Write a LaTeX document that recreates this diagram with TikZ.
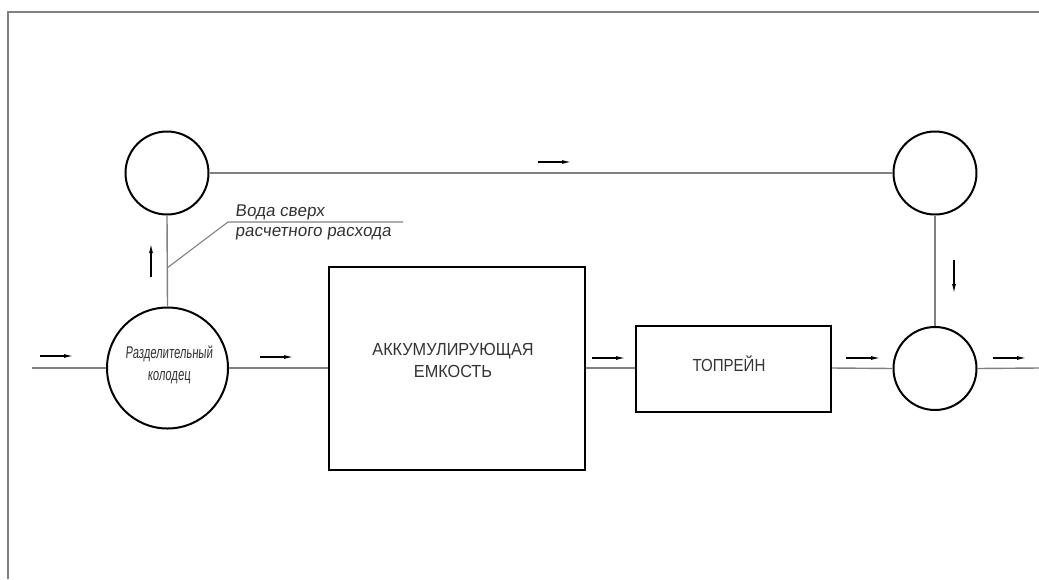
\documentclass[tikz,border=0pt]{standalone}
\usepackage{fontspec}
\setmainfont{Liberation Sans}
\newfontfamily\gostcap[FakeStretch=0.93]{Liberation Sans}
\newfontfamily\gostup[FakeStretch=0.86]{Liberation Sans}
\newfontfamily\gostnar[FakeStretch=0.66,FakeSlant=0.08]{Liberation Sans}
\newfontfamily\gostsl[FakeStretch=1.0,FakeSlant=0.12]{Liberation Sans}
\usetikzlibrary{arrows.meta}
\begin{document}
\begin{tikzpicture}[x=1pt,y=-1pt,
  unit/.style={draw=black,line width=2pt,inner sep=0pt},
  well/.style={unit,circle,minimum size=83pt},
  pipe/.style={draw=black!50,line width=1.4pt},
  flow/.style={draw=black,line width=1.1pt,-{Latex[length=9pt,width=4pt]}},
  lbl/.style={text=black!80,inner sep=0pt}]
\useasboundingbox (0,0) rectangle (1039,579);
% frame
\draw[draw=black!50,line width=2pt] (8,579) -- (8,12) -- (1039,12);
% nodes
\coordinate (in) at (32,368);
\coordinate (out) at (1039,368);
\node[unit,circle,minimum size=121pt] (sep) at (167.5,368) {};
\node[lbl,align=center,font=\gostnar\fontsize{17}{22}\selectfont] at (169,365) {Разделительный\\колодец};
\node[unit,rectangle,minimum width=256pt,minimum height=203pt] (acc) at (457,368.5) {};
\node[lbl,align=center,font=\gostcap\fontsize{17.5}{22}\selectfont] at (453,360) {АККУМУЛИРУЮЩАЯ\\ЕМКОСТЬ};
\node[unit,rectangle,minimum width=195pt,minimum height=86pt] (tp) at (733.5,369) {};
\node[lbl,font=\gostup\fontsize{17.5}{22}\selectfont] at (729,364) {ТОПРЕЙН};
\node[well] (c1) at (167,173) {};
\node[well] (c2) at (935,173) {};
\node[well] (c3) at (935,368.5) {};
% pipes
\draw[pipe] (in) -- (sep.west);
\draw[pipe] (sep.east) -- (acc.west |- sep.east);
\draw[pipe] (acc.east |- 0,368) -- (tp.west |- 0,368);
\draw[pipe] (tp.east |- 0,368) -- (c3.west);
\draw[pipe] (c3.east) -- (out);
\draw[pipe] (sep.north) -- (c1.south);
\draw[pipe] (c1.east) -- (c2.west);
\draw[pipe] (c2.south) -- (c3.north);
% leader
\coordinate (lp) at (167,268);
\coordinate (lk) at (228,222);
\coordinate (le) at (403,222);
\draw[pipe,line width=1.1pt] (lp) -- (lk) -- (le);
\node[lbl,anchor=base west,font=\gostsl\fontsize{17}{20}\selectfont] at (235,216) {Вода сверх};
\node[lbl,anchor=base west,font=\gostsl\fontsize{17}{20}\selectfont] at (235,236) {расчетного расхода};
% flow arrows
\draw[flow] (40,356) -- (73,356);
\draw[flow] (260,357) -- (293,357);
\draw[flow] (592,358) -- (625,358);
\draw[flow] (846,358) -- (880,358);
\draw[flow] (993,358) -- (1026,358);
\draw[flow] (538,162) -- (571,162);
\draw[flow] (151,277) -- (151,244);
\draw[flow] (954,260) -- (954,293);
\end{tikzpicture}
\end{document}
